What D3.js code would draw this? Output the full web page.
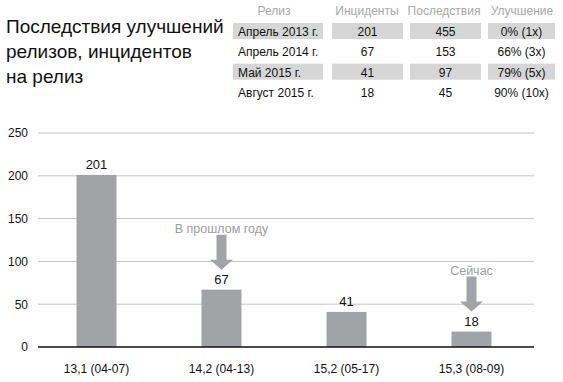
<!DOCTYPE html>
<html>
<head>
<meta charset="utf-8">
<script src="https://cdn.jsdelivr.net/npm/d3@7"></script>
<style>
  html, body { margin: 0; padding: 0; background: #fff; }
  svg { display: block; font-family: "Liberation Sans", Arial, sans-serif; }
</style>
</head>
<body>
<svg id="chart" width="563" height="382"></svg>
<script>
// ---- data ----
const titleLines = ["Последствия улучшений", "релизов, инцидентов", "на релиз"];
const categories = ["13,1 (04-07)", "14,2 (04-13)", "15,2 (05-17)", "15,3 (08-09)"];
const incidents = [201, 67, 41, 18];
const yTicks = [0, 50, 100, 150, 200, 250];
const annotationCategories = ["14,2 (04-13)", "15,3 (08-09)"];
const annotationTexts = ["В прошлом году", "Сейчас"];

const tableHeaders = ["Релиз", "Инциденты", "Последствия", "Улучшение"];
const tableReleases = ["Апрель 2013 г.", "Апрель 2014 г.", "Май 2015 г.", "Август 2015 г."];
const tableIncidents = [201, 67, 41, 18];
const tableConsequences = [455, 153, 97, 45];
const tableImprovement = ["0% (1x)", "66% (3x)", "79% (5x)", "90% (10x)"];

// ---- layout ----
const svg = d3.select("#chart");
const barColor = "#a2a3a6";
const gridColor = "#c4c4c4";

// title
svg.append("g").selectAll("text").data(titleLines).join("text")
  .attr("x", 6)
  .attr("y", (d, i) => 33 + i * 25)
  .attr("font-size", 19)
  .attr("fill", "#111")
  .text(d => d);

// table
const colBox = [[233, 323], [332, 403], [410, 481], [488, 555]];
const headerX = [274, 367, 444, 522];
const rowY = d3.scaleLinear().domain([0, 3]).range([36, 97]);
const table = svg.append("g").attr("font-size", 12);
table.selectAll("text.h").data(tableHeaders).join("text")
  .attr("class", "h")
  .attr("x", (d, i) => headerX[i]).attr("y", 15)
  .attr("text-anchor", "middle").attr("fill", "#a8a8a8")
  .text(d => d);
const rows = tableReleases.map((r, i) => [r, tableIncidents[i], tableConsequences[i], tableImprovement[i]]);
rows.forEach((row, i) => {
  const g = table.append("g");
  if (i % 2 === 0) {
    g.selectAll("rect").data(colBox).join("rect")
      .attr("x", d => d[0]).attr("width", d => d[1] - d[0])
      .attr("y", rowY(i) - 13).attr("height", 16)
      .attr("fill", "#d6d6d7");
  }
  g.selectAll("text").data(row).join("text")
    .attr("x", (d, j) => j === 0 ? 238 : (colBox[j][0] + colBox[j][1]) / 2)
    .attr("y", rowY(i))
    .attr("text-anchor", (d, j) => j === 0 ? "start" : "middle")
    .attr("fill", "#111")
    .text(d => d);
});

// chart
const x = d3.scaleBand().domain(categories).range([34, 534])
  .paddingInner(0.68).paddingOuter(0.34);
const y = d3.scaleLinear().domain([0, 250]).range([347, 133]);

// gridlines
svg.append("g").selectAll("line").data(yTicks.filter(t => t > 0)).join("line")
  .attr("x1", 38).attr("x2", 534)
  .attr("y1", d => y(d)).attr("y2", d => y(d))
  .attr("stroke", gridColor).attr("stroke-width", 1);

// y axis labels
const yAxis = svg.append("g").attr("transform", "translate(28,0)")
  .call(d3.axisLeft(y).tickValues(yTicks).tickSize(0).tickPadding(0));
yAxis.select(".domain").remove();
yAxis.selectAll("text").attr("font-size", 12).attr("font-family", "Liberation Sans, Arial, sans-serif").attr("fill", "#111");

// bars
svg.append("g").selectAll("rect").data(incidents).join("rect")
  .attr("x", (d, i) => x(categories[i]))
  .attr("width", x.bandwidth())
  .attr("y", d => y(d))
  .attr("height", d => y(0) - y(d))
  .attr("fill", barColor);

// baseline
svg.append("line").attr("x1", 38).attr("x2", 534).attr("y1", y(0)).attr("y2", y(0))
  .attr("stroke", "#111").attr("stroke-width", 1.5);

// value labels
svg.append("g").selectAll("text").data(incidents).join("text")
  .attr("x", (d, i) => x(categories[i]) + x.bandwidth() / 2)
  .attr("y", d => y(d) - 6)
  .attr("text-anchor", "middle").attr("font-size", 13).attr("fill", "#111")
  .text(d => d);

// x axis labels
const xAxis = svg.append("g").attr("transform", `translate(0,${y(0)})`)
  .call(d3.axisBottom(x).tickSize(0).tickPadding(17));
xAxis.select(".domain").remove();
xAxis.selectAll("text").attr("font-size", 12).attr("font-family", "Liberation Sans, Arial, sans-serif").attr("fill", "#111");

// annotations
annotationCategories.forEach((cat, k) => {
  const i = categories.indexOf(cat);
  const cx = x(cat) + x.bandwidth() / 2;
  const tip = y(incidents[i]) - 20;
  const len = 35, headH = 10, shaftW = 10, headW = 23;
  const path = d3.path();
  path.moveTo(cx - shaftW / 2, tip - len);
  path.lineTo(cx + shaftW / 2, tip - len);
  path.lineTo(cx + shaftW / 2, tip - headH);
  path.lineTo(cx + headW / 2, tip - headH);
  path.lineTo(cx, tip);
  path.lineTo(cx - headW / 2, tip - headH);
  path.lineTo(cx - shaftW / 2, tip - headH);
  path.closePath();
  svg.append("path").attr("d", path.toString()).attr("fill", barColor);
  svg.append("text").attr("x", cx).attr("y", tip - len - 2)
    .attr("text-anchor", "middle").attr("font-size", 12.5).attr("fill", "#9c9c9c")
    .text(annotationTexts[k]);
});
</script>
</body>
</html>
